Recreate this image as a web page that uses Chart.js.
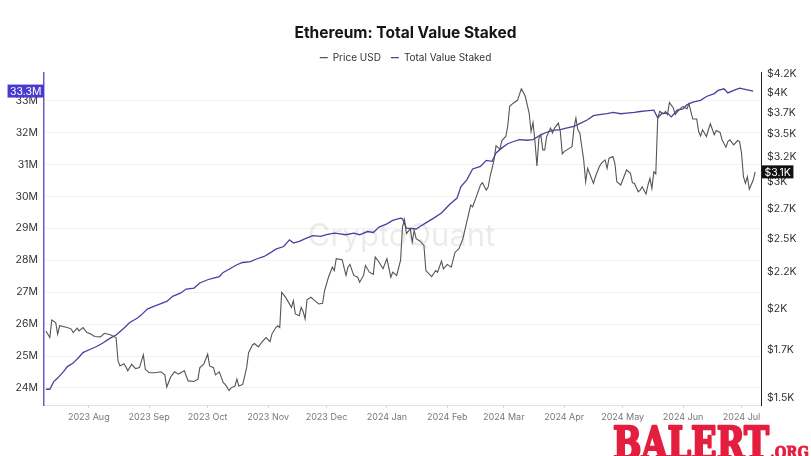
<!DOCTYPE html>
<html>
<head>
<meta charset="utf-8">
<script src="https://cdn.jsdelivr.net/npm/chart.js@4.4.1/dist/chart.umd.min.js"></script>
<style>
html,body{margin:0;padding:0;background:#fff;}
#wrap{width:811px;height:456px;position:relative;}
</style>
</head>
<body>
<div id="wrap"><canvas id="c" width="811" height="456"></canvas></div>
<script>
// x values are day offsets from startDate
const startDate = '2023-07-09';
const monthTickDays = [23, 54, 84, 115, 145, 176, 207, 236, 267, 297, 328, 358];
const monthLabels = ['2023 Aug','2023 Sep','2023 Oct','2023 Nov','2023 Dec','2024 Jan','2024 Feb','2024 Mar','2024 Apr','2024 May','2024 Jun','2024 Jul'];

const stakedTicks = [24, 25, 26, 27, 28, 29, 30, 31, 32, 33];
const priceTicks = [1500, 1750, 2000, 2250, 2500, 2750, 3000, 3250, 3500, 3750, 4000, 4250];

const priceDays = [1,3,4,6,7,8,12,14,15,17,18,20,22,24,26,29,31,34,37,38,39,41,42,43,45,47,49,51,52,54,57,60,62,63,65,67,69,72,74,77,79,80,82,84,85,87,88,90,92,93,95,96,98,99,100,102,104,105,107,108,110,112,114,116,117,119,120,121,122,124,125,127,128,129,131,132,133,134,135,137,139,141,143,144,146,148,149,150,153,155,156,157,159,161,162,164,165,167,169,170,172,174,176,178,179,181,183,184,185,186,188,189,190,191,193,195,196,199,201,202,204,205,207,209,211,213,215,217,219,220,222,224,225,227,228,229,231,232,234,235,237,238,239,241,243,244,245,246,247,249,250,251,252,253,254,255,256,257,258,260,261,262,264,265,266,267,269,271,272,273,274,275,277,278,279,280,282,283,285,286,288,289,290,292,293,294,296,297,298,299,301,302,303,305,306,307,309,310,311,312,313,314,315,316,318,319,320,321,323,324,326,328,330,331,332,333,335,336,337,338,340,341,342,344,345,347,348,350,351,352,354,356,357,358,359,360,361,362,364,365];
const priceValues = [1861,1822,1927,1912,1842,1892,1881,1872,1851,1878,1861,1881,1851,1843,1828,1826,1847,1838,1822,1690,1663,1675,1658,1637,1672,1649,1654,1723,1645,1627,1627,1632,1616,1554,1605,1632,1620,1637,1585,1582,1594,1654,1672,1727,1663,1654,1616,1632,1576,1567,1537,1550,1559,1594,1559,1567,1654,1735,1779,1787,1768,1798,1822,1798,1843,1881,1892,1881,2107,2073,2051,2007,2051,1965,1954,2007,1981,1934,2056,2073,2051,2029,2033,2118,2211,2284,2259,2347,2339,2224,2284,2304,2224,2211,2176,2224,2296,2247,2231,2359,2320,2272,2347,2211,2247,2224,2334,2599,2661,2544,2585,2475,2571,2503,2482,2449,2259,2216,2259,2247,2328,2272,2304,2284,2396,2423,2503,2640,2787,2772,2869,2973,2994,2925,2956,3060,3222,3371,3336,3429,3474,3588,3827,3869,3902,3974,4048,4004,3953,3746,3529,3634,3418,3160,3456,3494,3328,3328,3474,3569,3513,3569,3627,3529,3285,3309,3336,3363,3569,3686,3550,3513,3222,3004,3137,3087,2989,3053,3153,3188,3222,3137,3240,3257,3188,3004,2973,3021,3070,3120,3087,2994,2989,2909,2925,2956,2888,2973,3037,2941,3101,3080,3686,3765,3738,3765,3726,3876,3807,3726,3786,3827,3796,3861,3765,3674,3674,3529,3481,3550,3474,3550,3619,3494,3541,3519,3437,3357,3418,3437,3382,3429,3418,3293,3053,2989,3053,2932,3021,3101];

const stakedDays = [1,3,5,7,10,12,15,18,20,24,27,30,34,37,41,44,48,50,53,56,60,63,66,70,73,77,80,84,87,90,92,95,99,102,106,109,113,116,119,123,126,128,131,135,138,142,145,149,152,155,159,162,166,169,172,176,179,183,184,186,191,193,196,200,204,208,212,214,217,220,224,227,230,232,235,238,241,244,248,251,255,258,261,265,268,272,275,279,282,285,289,292,296,299,303,306,309,313,315,317,320,322,325,328,330,333,337,340,344,346,349,351,354,357,361,364];
const stakedValues = [23.96,23.96,24.20,24.31,24.51,24.67,24.78,24.97,25.11,25.22,25.30,25.40,25.56,25.66,25.87,26.05,26.19,26.29,26.47,26.55,26.64,26.71,26.87,26.97,27.10,27.13,27.29,27.39,27.44,27.49,27.62,27.72,27.86,27.93,27.96,28.04,28.12,28.23,28.35,28.43,28.64,28.54,28.59,28.70,28.77,28.75,28.80,28.85,28.83,28.80,28.85,28.80,28.90,28.87,29.04,29.14,29.25,29.32,29.30,29.01,28.98,29.06,29.17,29.32,29.48,29.74,29.95,30.31,30.52,30.86,30.94,31.13,31.10,31.36,31.52,31.65,31.72,31.78,31.76,31.78,31.93,32.01,32.07,32.09,32.14,32.19,32.28,32.40,32.53,32.56,32.59,32.63,32.59,32.61,32.63,32.66,32.68,32.70,32.46,32.59,32.61,32.49,32.70,32.74,32.87,32.95,33.01,33.13,33.22,33.32,33.37,33.24,33.32,33.39,33.34,33.30];

const FONT = 'Inter';
Chart.defaults.font.family = FONT;

const pricePoints = priceDays.map((d, i) => ({x: d, y: priceValues[i]}));
const stakedPoints = stakedDays.map((d, i) => ({x: d, y: stakedValues[i]}));

const watermark = {
  id: 'watermark',
  beforeDatasetsDraw(chart) {
    const {ctx, chartArea: a} = chart;
    ctx.save();
    ctx.font = '400 31px ' + FONT;
    ctx.fillStyle = 'rgba(0,0,0,0.08)';
    ctx.textAlign = 'center';
    ctx.textBaseline = 'middle';
    ctx.fillText('CryptoQuant', (a.left + a.right) / 2 - 1, (a.top + a.bottom) / 2 - 2);
    ctx.restore();
  }
};

const lastBoxes = {
  id: 'lastBoxes',
  afterDraw(chart) {
    const {ctx, scales} = chart;
    const yL = scales.yL, yR = scales.yR;
    ctx.save();
    ctx.font = '10.5px ' + FONT;
    ctx.textBaseline = 'middle';
    // left box
    const sv = stakedValues[stakedValues.length - 1];
    const ly = yL.getPixelForValue(sv);
    const lt = sv.toFixed(1) + 'M';
    const lw = ctx.measureText(lt).width + 5;
    ctx.fillStyle = '#4a3bcf';
    ctx.fillRect(yL.right - lw, ly - 6.5, lw, 13);
    ctx.fillStyle = '#fff';
    ctx.textAlign = 'center';
    ctx.fillText(lt, yL.right - lw / 2, ly + 0.5);
    // right box
    const pv = priceValues[priceValues.length - 1];
    const ry = yR.getPixelForValue(pv);
    const rt = '$' + (pv / 1000).toFixed(1) + 'K';
    const rw = ctx.measureText(rt).width + 5;
    ctx.fillStyle = '#111';
    ctx.fillRect(yR.left + 1, ry - 6.5, rw, 13);
    ctx.fillStyle = '#fff';
    ctx.fillText(rt, yR.left + 1 + rw / 2, ry + 0.5);
    ctx.restore();

    // site watermark (bottom right)
    ctx.save();
    ctx.fillStyle = '#e41e3f';
    ctx.strokeStyle = '#e41e3f';
    ctx.lineWidth = 2.5;
    ctx.lineJoin = 'round';
    ctx.textBaseline = 'alphabetic';
    ctx.textAlign = 'left';
    ctx.font = 'bold 44px "DejaVu Serif"';
    const bw = ctx.measureText('BALERT').width;
    ctx.translate(613, 459);
    ctx.scale(156 / bw, 1);
    ctx.fillText('BALERT', 0, 0);
    ctx.strokeText('BALERT', 0, 0);
    ctx.restore();
    ctx.save();
    ctx.fillStyle = '#e41e3f';
    ctx.strokeStyle = '#e41e3f';
    ctx.lineWidth = 1;
    ctx.font = 'bold 17px "DejaVu Serif"';
    const ow = ctx.measureText('.ORG').width;
    ctx.translate(770, 454);
    ctx.scale(39 / ow, 1);
    ctx.fillText('.ORG', 0, 0);
    ctx.strokeText('.ORG', 0, 0);
    ctx.restore();
  }
};

new Chart(document.getElementById('c'), {
  type: 'line',
  data: {
    datasets: [
      {
        label: 'Price USD',
        data: pricePoints,
        yAxisID: 'yR',
        borderColor: '#555555',
        backgroundColor: '#555555',
        borderWidth: 1.1,
        pointRadius: 0,
        tension: 0
      },
      {
        label: 'Total Value Staked',
        data: stakedPoints,
        yAxisID: 'yL',
        borderColor: '#4a3fa0',
        backgroundColor: '#4a3fa0',
        borderWidth: 1.3,
        pointRadius: 0,
        tension: 0
      }
    ]
  },
  options: {
    responsive: false,
    animation: false,
    layout: {padding: {top: 1, left: 0, right: 0, bottom: 0}},
    plugins: {
      title: {
        display: true,
        text: 'Ethereum: Total Value Staked',
        color: '#151515',
        font: {size: 15.5, weight: 'bold', family: FONT},
        padding: {top: 23, bottom: 0}
      },
      legend: {
        display: true,
        labels: {
          usePointStyle: true,
          pointStyle: 'line',
          pointStyleWidth: 8,
          boxHeight: 11,
          color: '#333',
          font: {size: 10, family: FONT},
          padding: 10
        }
      },
      tooltip: {enabled: false}
    },
    scales: {
      x: {
        type: 'linear',
        min: 0,
        max: 368,
        afterBuildTicks: s => { s.ticks = monthTickDays.map(v => ({value: v})); },
        afterFit: s => { s.height = 51; },
        ticks: {
          autoSkip: false,
          maxRotation: 0,
          color: '#777',
          font: {size: 9, family: FONT},
          padding: 4,
          callback: (v, i) => monthLabels[i]
        },
        grid: {drawOnChartArea: false, drawTicks: true, tickLength: 3, color: '#d8d8d8'},
        border: {display: true, color: '#e2e2e2', width: 1}
      },
      yL: {
        type: 'linear',
        position: 'left',
        min: 23.467,
        max: 33.878,
        afterBuildTicks: s => { s.ticks = stakedTicks.map(v => ({value: v})); },
        afterFit: s => { s.width = 44; },
        ticks: {
          autoSkip: false,
          color: '#333',
          font: {size: 10.5, family: FONT},
          padding: 6,
          callback: v => v + 'M'
        },
        grid: {display: true, drawTicks: false, color: '#f2f2f2', lineWidth: 1},
        border: {display: true, color: '#6a5cc8', width: 1.5}
      },
      yR: {
        type: 'logarithmic',
        position: 'right',
        min: 1467,
        max: 4265,
        afterBuildTicks: s => { s.ticks = priceTicks.map(v => ({value: v})); },
        afterFit: s => { s.width = 50; },
        ticks: {
          autoSkip: false,
          color: '#333',
          font: {size: 10.5, family: FONT},
          padding: 6,
          callback: v => '$' + (Math.floor(v / 100) / 10) + 'K'
        },
        grid: {display: false, drawTicks: false},
        border: {display: true, color: '#222', width: 1}
      }
    }
  },
  plugins: [watermark, lastBoxes]
});
</script>
</body>
</html>
